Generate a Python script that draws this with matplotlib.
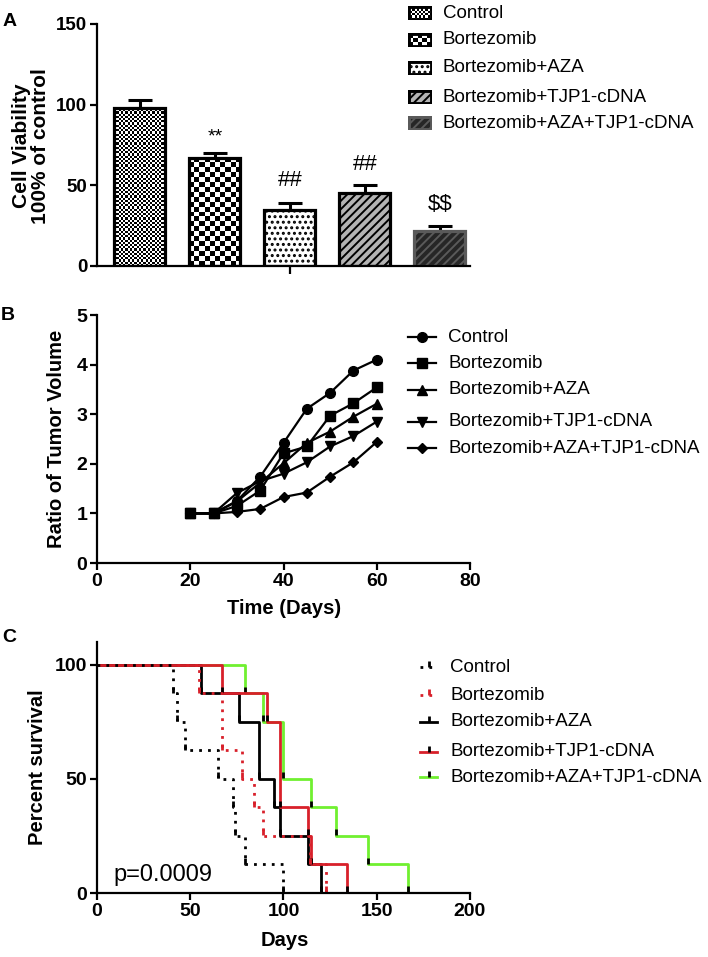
import numpy as np
import matplotlib
matplotlib.use("Agg")
import matplotlib.pyplot as plt
from matplotlib.patches import Rectangle
from matplotlib.lines import Line2D

plt.rcParams['font.family'] = ['Liberation Sans', 'DejaVu Sans']
plt.rcParams['hatch.linewidth'] = 1.4

W, H = 708, 957

groups = ["Control", "Bortezomib", "Bortezomib+AZA", "Bortezomib+TJP1-cDNA",
          "Bortezomib+AZA+TJP1-cDNA"]

# A: cell viability
viability = [98, 67, 35, 45, 22]
viability_err = [5, 3, 4, 5, 3]
signif = ["", "**", "##", "##", "$$"]
signif_y = [0, 80, 53, 63, 38]

# B: tumor volume ratio
days_b = [20, 25, 30, 35, 40, 45, 50, 55, 60]
tumor_ctrl = [1, 1, 1.25, 1.74, 2.42, 3.11, 3.43, 3.88, 4.1]
tumor_bort = [1, 1, 1.15, 1.46, 2.21, 2.35, 2.97, 3.22, 3.54]
tumor_aza = [1, 1, 1.24, 1.62, 2.01, 2.42, 2.65, 2.95, 3.21]
tumor_tjp = [1, 1, 1.41, 1.65, 1.8, 2.03, 2.35, 2.56, 2.85]
tumor_combo = [1, 1, 1.03, 1.09, 1.33, 1.42, 1.74, 2.03, 2.44]

# C: survival (step points)
surv_ctrl_t = [0, 41, 43, 47, 65, 73, 74, 79.5, 100]
surv_ctrl_s = [100, 87.5, 75, 62.5, 50, 37.5, 25, 12.5, 0]
surv_bort_t = [0, 54.5, 67, 78, 84, 89, 114, 123]
surv_bort_s = [100, 87.5, 62.5, 50, 37.5, 25, 12.5, 0]
surv_aza_t = [0, 56, 76, 87, 95, 98, 113, 120]
surv_aza_s = [100, 87.5, 75, 50, 37.5, 25, 12.5, 0]
surv_tjp_t = [0, 67, 91, 98, 113, 115, 134]
surv_tjp_s = [100, 87.5, 75, 37.5, 25, 12.5, 0]
surv_combo_t = [0, 79.5, 89, 99.5, 115, 128, 145.5, 167]
surv_combo_s = [100, 87.5, 75, 50, 37.5, 25, 12.5, 0]

RED = '#d8202a'
GREEN = '#70f030'

# bar styles: (checker cell px or None, face, edge, hatch)
bar_styles = [
    (2.2, 'white', 'black', None),
    (5.0, 'white', 'black', None),
    (None, 'white', 'black', '...'),
    (None, '#b4b4b4', 'black', '////'),
    (None, '#262626', '#5a5a5a', '////'),
]


def fx(x):
    return x / W


def fy(y):
    return 1 - y / H


def ax_px(ax, left, top, right, bottom):
    ax.set_position([fx(left), fy(bottom), fx(right) - fx(left), fy(top) - fy(bottom)])


def fill_box(ax, x0, y0, w, h, style, pxx, pxy, lw=2.3, z=2):
    cell, face, edge, hatch = style
    base = Rectangle((x0, y0), w, h, facecolor=face, edgecolor=edge if hatch else 'none',
                     hatch=hatch, linewidth=0, zorder=z)
    ax.add_patch(base)
    if cell:
        nx = max(2, int(round(w * pxx / cell)))
        ny = max(2, int(round(h * pxy / cell)))
        arr = np.indices((ny, nx)).sum(0) % 2
        im = ax.imshow(arr, cmap='gray', extent=(x0, x0 + w, y0, y0 + h), origin='lower',
                       interpolation='nearest', aspect='auto', zorder=z + 0.1)
        im.set_clip_path(base)
    ax.add_patch(Rectangle((x0, y0), w, h, facecolor='none', edgecolor=edge,
                           linewidth=lw, zorder=z + 0.2))


def style_axes(ax, labelsize):
    for s in ['top', 'right']:
        ax.spines[s].set_visible(False)
    for s in ['left', 'bottom']:
        ax.spines[s].set_linewidth(1.6)
    ax.tick_params(width=1.6, length=5, labelsize=labelsize, pad=2)
    for lab in ax.get_xticklabels() + ax.get_yticklabels():
        lab.set_fontweight('bold')


fig = plt.figure(figsize=(W / 100, H / 100), dpi=100)

# ---------------- panel A
axA = fig.add_axes([0, 0, 1, 1])
ax_px(axA, 97, 24, 470, 266)
x = np.arange(len(groups))
width = 0.68
axA.set_xlim(-0.573, 4.4)
axA.set_ylim(0, 150)
pxx = (470 - 97) / (4.4 + 0.573)
pxy = (266 - 24) / 150
for i, v in enumerate(viability):
    fill_box(axA, x[i] - width / 2, 0, width, v, bar_styles[i], pxx, pxy)
axA.errorbar(x, viability, yerr=[np.zeros(5), viability_err], fmt='none', ecolor='black',
             elinewidth=2.2, capsize=8.5, capthick=2.2, zorder=1)
for i, t in enumerate(signif):
    if t:
        axA.text(x[i], signif_y[i], t, ha='center', va='center', parse_math=False,
                 fontsize=14 if t == '**' else 16)
axA.set_xlim(-0.573, 4.4)
axA.set_ylim(0, 150)
axA.set_yticks([0, 50, 100, 150])
axA.set_xticks([2])
axA.set_xticklabels([])
style_axes(axA, 13.5)
axA.tick_params(axis='x', length=6)
fig.text(fx(31), fy(146), "Cell Viability\n100% of control", rotation=90, ha='center',
         va='center', fontsize=15, fontweight='bold', linespacing=1.05)

rows_a = [13, 40, 68, 97, 123]
for i, g in enumerate(groups):
    hax = fig.add_axes([0, 0, 1, 1])
    ax_px(hax, 408, rows_a[i] - 7, 432, rows_a[i] + 7)
    hax.set_xlim(0, 1)
    hax.set_ylim(0, 1)
    hax.axis('off')
    fill_box(hax, 0, 0, 1, 1, bar_styles[i], 24, 14, lw=3.5)
    fig.text(fx(443), fy(rows_a[i]), g, ha='left', va='center', fontsize=13.5)

# ---------------- panel B
axB = fig.add_axes([0, 0, 1, 1])
ax_px(axB, 97, 315, 470, 563)
series_b = [(tumor_ctrl, 'o', 7), (tumor_bort, 's', 7), (tumor_aza, '^', 7),
            (tumor_tjp, 'v', 7), (tumor_combo, 'D', 5)]
for vals, m, ms in series_b:
    axB.plot(days_b, vals, color='black', lw=1.6, marker=m, markersize=ms)
axB.set_xlim(0, 80)
axB.set_ylim(0, 5)
axB.set_xticks([0, 20, 40, 60, 80])
axB.set_yticks([0, 1, 2, 3, 4, 5])
style_axes(axB, 14)
fig.text(fx(57), fy(439), "Ratio of Tumor Volume", rotation=90, ha='center', va='center',
         fontsize=14.5, fontweight='bold')
fig.text(fx(284), fy(609), "Time (Days)", ha='center', va='center', fontsize=14.5,
         fontweight='bold')

rows_b = [337, 363, 390, 422, 448]
for i, g in enumerate(groups):
    _, m, ms = series_b[i]
    fig.add_artist(Line2D([fx(408), fx(436)], [fy(rows_b[i])] * 2, color='black', lw=1.6))
    fig.add_artist(Line2D([fx(422)], [fy(rows_b[i])], color='black', marker=m, markersize=ms))
    fig.text(fx(448), fy(rows_b[i]), g, ha='left', va='center', fontsize=13.5)

# ---------------- panel C
axC = fig.add_axes([0, 0, 1, 1])
ax_px(axC, 97, 642, 470, 893)
series_c = [
    (surv_combo_t, surv_combo_s, GREEN, '-', 'black'),
    (surv_aza_t, surv_aza_s, 'black', '-', 'black'),
    (surv_tjp_t, surv_tjp_s, RED, '-', 'black'),
    (surv_bort_t, surv_bort_s, RED, (0, (1, 2.2)), RED),
    (surv_ctrl_t, surv_ctrl_s, 'black', (0, (1, 2.2)), 'black'),
]
for t, s, c, ls, tc in series_c:
    axC.step(t, s, where='post', color=c, lw=2, linestyle=ls)
    axC.plot(t[1:], np.array(s[1:]) + 1.6, linestyle='none', marker='|', color=tc,
             markersize=4.5, markeredgewidth=2)
axC.set_xlim(0, 200)
axC.set_ylim(0, 110)
axC.set_xticks([0, 50, 100, 150, 200])
axC.set_yticks([0, 50, 100])
style_axes(axC, 14)
axC.text(113 / 1.865 - 97 / 1.865, 8, "p=0.0009", fontsize=17, ha='left', va='center')
fig.text(fx(38), fy(767), "Percent survival", rotation=90, ha='center', va='center',
         fontsize=14.5, fontweight='bold')
fig.text(fx(285), fy(941), "Days", ha='center', va='center', fontsize=14.5,
         fontweight='bold')

rows_c = [667, 695, 722, 752, 777]
legend_c = [('black', (0, (1, 2.2)), 'black'), (RED, (0, (1, 2.2)), RED),
            ('black', '-', 'black'), (RED, '-', 'black'), (GREEN, '-', 'black')]
for i, g in enumerate(groups):
    c, ls, tc = legend_c[i]
    fig.add_artist(Line2D([fx(420), fx(437)], [fy(rows_c[i])] * 2, color=c, lw=2, linestyle=ls))
    fig.add_artist(Line2D([fx(429)], [fy(rows_c[i] - 3)], color=tc, marker='|',
                          markersize=4.5, markeredgewidth=2, linestyle='none'))
    fig.text(fx(450), fy(rows_c[i]), g, ha='left', va='center', fontsize=13.5)

# panel letters
for lab, (px, py) in zip("ABC", [(10, 21), (8, 316), (9, 638)]):
    fig.text(fx(px), fy(py), lab, ha='center', va='center', fontsize=14, fontweight='bold')

fig.savefig("out.png", dpi=100)
